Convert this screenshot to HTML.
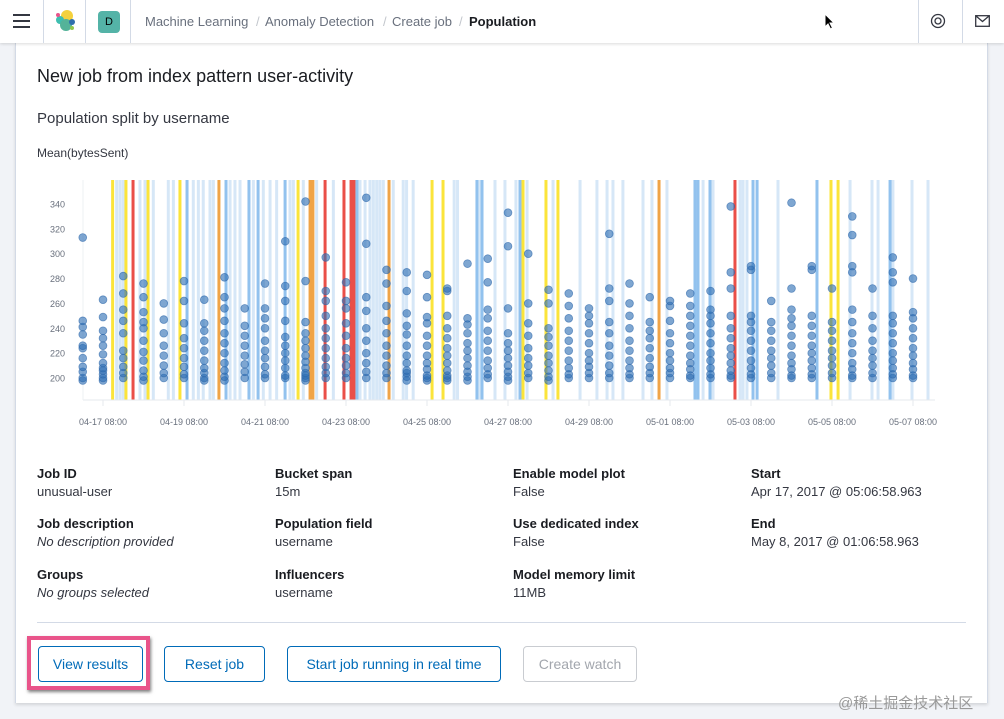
<!DOCTYPE html>
<html><head><meta charset="utf-8"><style>
*{box-sizing:border-box;margin:0;padding:0}
body{width:1004px;height:719px;overflow:hidden;background:#f1f3f7;font-family:"Liberation Sans","Noto Sans CJK SC",sans-serif;position:relative;color:#1a1c21}
.abs{position:absolute}
#header{left:0;top:0;width:1004px;height:43px;background:#fff;box-shadow:0 1px 3px rgba(0,0,0,.15);z-index:5}
.vd{position:absolute;top:0;width:1px;height:43px;background:#d3dae6}
.crumb{position:absolute;top:14px;font-size:13px;color:#69707d;white-space:nowrap}
#panel{left:15px;top:43px;width:973px;height:660px;background:#fff;border-left:1px solid #d3dae6;border-right:1px solid #d3dae6;box-shadow:0 2px 3px rgba(0,0,0,.12)}
.lbl{position:absolute;font-size:13px;font-weight:bold;color:#1a1c21}
.val{position:absolute;font-size:13px;color:#343741}
.it{font-style:italic}
.btn{position:absolute;top:646px;height:36px;border:1px solid #006bb8;border-radius:4px;color:#006bb8;font-size:14px;text-align:center;line-height:34px;background:#fff}
</style></head><body>
<div id="header" class="abs">
  <div class="abs" style="left:13px;top:14px;width:17px;height:14px">
    <div style="height:2px;background:#343741;margin-bottom:4px"></div><div style="height:2px;background:#343741;margin-bottom:4px"></div><div style="height:2px;background:#343741"></div>
  </div>
  <div class="vd" style="left:43px"></div>
  <svg class="abs" style="left:53px;top:9px" width="24" height="24"><circle cx="14" cy="7" r="6" fill="#f4d13d"/><circle cx="7" cy="11" r="4" fill="#3ebeb0"/><circle cx="13" cy="16" r="6" fill="#54b399"/><circle cx="19" cy="13" r="3" fill="#2f6fad"/><circle cx="5" cy="6" r="2" fill="#e7548a"/><circle cx="19" cy="19" r="2" fill="#92c84c"/></svg>
  <div class="vd" style="left:85px"></div>
  <div class="abs" style="left:98px;top:11px;width:22px;height:22px;background:#54b3a7;border-radius:4px;font-size:11px;text-align:center;line-height:22px;color:#000">D</div>
  <div class="vd" style="left:130px"></div>
  <span class="crumb" style="left:145px">Machine Learning</span>
  <span class="crumb" style="left:256px;color:#c2c6cc">/</span>
  <span class="crumb" style="left:265px">Anomaly Detection</span>
  <span class="crumb" style="left:383px;color:#c2c6cc">/</span>
  <span class="crumb" style="left:392px">Create job</span>
  <span class="crumb" style="left:459px;color:#c2c6cc">/</span>
  <span class="crumb" style="left:469px;color:#1a1c21;font-weight:bold">Population</span>
  <svg class="abs" style="left:824px;top:13px" width="12" height="18"><path d="M1 1 L1 14 L4 11 L6.5 16 L8.5 15 L6 10 L10 10 Z" fill="#000" stroke="#fff" stroke-width="1"/></svg>
  <div class="vd" style="left:918px"></div>
  <svg class="abs" style="left:930px;top:13px" width="16" height="16"><circle cx="8" cy="8" r="6.5" fill="none" stroke="#343741" stroke-width="1.3"/><circle cx="8" cy="8" r="3" fill="none" stroke="#343741" stroke-width="1.3"/></svg>
  <div class="vd" style="left:962px"></div>
  <svg class="abs" style="left:975px;top:15px" width="15" height="12"><rect x="0.7" y="0.7" width="13.6" height="10.6" fill="none" stroke="#343741" stroke-width="1.3"/><path d="M1 1 L7.5 6.5 L14 1" fill="none" stroke="#343741" stroke-width="1.3"/></svg>
</div>

<div id="panel" class="abs"></div>
<div class="abs" style="left:37px;top:66px;font-size:18px;color:#1a1c21">New job from index pattern user-activity</div>
<div class="abs" style="left:37px;top:110px;font-size:15px;color:#343741">Population split by username</div>
<div class="abs" style="left:37px;top:146px;font-size:12px;color:#343741">Mean(bytesSent)</div>

<svg class="abs" id="chart" style="left:0;top:0" width="1004" height="440"></svg>

<div class="lbl" style="left:37px;top:466px">Job ID</div>
<div class="val" style="left:37px;top:484px">unusual-user</div>
<div class="lbl" style="left:275px;top:466px">Bucket span</div>
<div class="val" style="left:275px;top:484px">15m</div>
<div class="lbl" style="left:513px;top:466px">Enable model plot</div>
<div class="val" style="left:513px;top:484px">False</div>
<div class="lbl" style="left:751px;top:466px">Start</div>
<div class="val" style="left:751px;top:484px">Apr 17, 2017 @ 05:06:58.963</div>
<div class="lbl" style="left:37px;top:516px">Job description</div>
<div class="val it" style="left:37px;top:534px">No description provided</div>
<div class="lbl" style="left:275px;top:516px">Population field</div>
<div class="val" style="left:275px;top:534px">username</div>
<div class="lbl" style="left:513px;top:516px">Use dedicated index</div>
<div class="val" style="left:513px;top:534px">False</div>
<div class="lbl" style="left:751px;top:516px">End</div>
<div class="val" style="left:751px;top:534px">May 8, 2017 @ 01:06:58.963</div>
<div class="lbl" style="left:37px;top:567px">Groups</div>
<div class="val it" style="left:37px;top:585px">No groups selected</div>
<div class="lbl" style="left:275px;top:567px">Influencers</div>
<div class="val" style="left:275px;top:585px">username</div>
<div class="lbl" style="left:513px;top:567px">Model memory limit</div>
<div class="val" style="left:513px;top:585px">11MB</div>

<div class="abs" style="left:37px;top:622px;width:929px;height:1px;background:#d3dae6"></div>
<div class="abs" style="left:27px;top:636px;width:123px;height:54px;border:4px solid #e9548a;box-shadow:1px 2px 3px rgba(0,0,0,.5)"></div>
<div class="btn" style="left:38px;width:105px">View results</div>
<div class="btn" style="left:164px;width:101px">Reset job</div>
<div class="btn" style="left:287px;width:214px">Start job running in real time</div>
<div class="btn" style="left:523px;width:114px;border-color:#c9ccd1;color:#a2a6ad">Create watch</div>
<div class="abs" style="left:838px;top:692px;font-size:15px;color:#999">@稀土掘金技术社区</div>

<script>
const bandLight=[16.1,18.1,20.0,29.9,32.9,37.8,46.7,49.7,61.5,64.5,67.4,71.4,73.4,83.3,86.2,89.2,97.1,103.0,107.0,110.9,118.8,120.8,126.7,134.6,144.5,160.3,163.3,166.2,168.2,170.2,172.1,174.1,180.0,185.9,187.9,191.8,216.1,218.1,231.4,240.3,246.2,252.7,259.3,274.7,290.7,300.7,306.7,310.2,316.1,328,333.3,342.2,363.6,369.5,385.5,387.3,389.6,408,450.7,463.7,467.3,476.1,487.4,496.9];
const bandMedium=[57.8,80.9,94.5,99.9,115.9,158.5,229.6,232.6,255.1,358.8,360.6,367.7,393.2,395.6,431.1,474.4];
const bandYellow=[13.7,21.6,34.7,53.6,123.6,203,209.5,256.9,270.5,277.6,439.4,443.6];
const bandOrange=[76.7,130.7,132.4,177.5,337.5];
const bandRed=[25.8,139.6,150.8,155,156.7,382.5];
const columnHours=[-4,8,20,32,44,56,68,80,92,104,116,128,140,152,164,176,188,200,212,224,236,248,260,272,284,296,308,320,332,344,356,368,380,392,404,416,428,440,452,464,476,488];
const columnValues=[
[198,200,205,209,216,224,226,235,241,246,313],
[198,200,203,206,208,212,219,226,232,238,249,263],
[200,204,209,216,222,236,246,255,268,282],
[198,201,206,214,221,230,240,245,253,265,276],
[200,204,210,218,226,236,247,260],
[200,203,209,216,224,232,244,262,278],
[198,200,204,208,214,222,230,238,244,263],
[198,201,206,212,220,228,236,246,256,265,281],
[200,205,211,218,226,234,242,256],
[200,203,209,216,222,230,240,248,256,276],
[200,202,208,214,220,226,233,246,262,274,310],
[198,200,202,204,208,213,218,224,230,236,245,278,342],
[200,204,209,216,224,232,240,250,262,270,297],
[200,204,210,216,224,234,244,256,262,277],
[200,205,212,220,230,240,254,265,308,345],
[200,204,210,218,226,236,246,258,276,287],
[198,201,204,206,212,218,226,235,242,252,270,285],
[198,200,202,207,212,218,226,234,244,249,265,283],
[198,200,202,206,212,218,224,232,240,250,270,272],
[198,201,205,210,216,222,228,236,243,248,292],
[200,203,208,214,222,230,238,248,255,277,296],
[198,201,205,210,216,222,228,236,256,306,333],
[200,204,210,216,224,234,244,260,300],
[198,201,206,212,218,226,233,240,260,271],
[200,203,208,214,222,230,238,248,258,268],
[200,204,209,214,220,228,236,244,250,256],
[200,204,210,218,226,236,245,262,272,316],
[200,203,208,214,222,230,240,250,260,276],
[200,204,209,216,224,232,238,245,265],
[200,204,208,214,220,228,236,246,258,262],
[200,202,207,212,218,226,234,242,250,258,268],
[200,203,208,214,220,228,236,244,250,255,270],
[200,202,206,212,218,224,232,240,250,272,285,338],
[200,203,208,214,222,230,238,245,250,287,290],
[200,204,210,216,222,230,238,245,262],
[200,202,207,212,218,226,234,242,248,255,272,341],
[200,203,208,214,220,226,234,242,250,287,290],
[200,204,210,216,222,230,238,245,272],
[200,202,207,212,220,228,236,245,255,285,290,315,330],
[200,204,210,216,222,230,240,250,272],
[200,203,208,214,220,228,236,244,250,277,285,297],
[200,202,207,212,218,224,232,240,248,253,280]
];
const yTicks=[200,220,240,260,280,300,320,340];
const xTickHours=[8,56,104,152,200,248,296,344,392,440,488];
const xTickLabels=["04-17 08:00","04-19 08:00","04-21 08:00","04-23 08:00","04-25 08:00","04-27 08:00","04-29 08:00","05-01 08:00","05-03 08:00","05-05 08:00","05-07 08:00"];

const NS="http://www.w3.org/2000/svg";
const svg=document.getElementById('chart');
const PX0=83,PX1=935,PT=180,PB=400;
function xs(h){return 89.5+h*1.6875;}
function ys(v){return 378-(v-200)*1.243;}
function mk(t,a){const e=document.createElementNS(NS,t);for(const k in a)e.setAttribute(k,a[k]);svg.appendChild(e);return e;}
function bands(arr,color,w,name){
  arr.forEach(h=>{
    const r=mk('rect',{x:xs(h)-w/2,y:PT,width:w,height:PB-PT,fill:color});
    
    
  });
}
bands(bandLight,'#d6e7f7',3,'band-light');
bands(bandMedium,'#92c2ee',3,'band-medium');
bands(bandYellow,'#fbe43a',3,'band-yellow');
bands(bandOrange,'#f0a447',3,'band-orange');
bands(bandRed,'#ea4f48',3,'band-red');
const ax=mk('line',{x1:PX0,y1:PB,x2:PX1,y2:PB,stroke:'#e6e9ee','stroke-width':1});


const ay=mk('line',{x1:PX0,y1:PT,x2:PX0,y2:PB,stroke:'#eef0f3','stroke-width':1});


yTicks.forEach(v=>{
  const t=mk('text',{x:65,y:ys(v)+3.5,'text-anchor':'end','font-size':9,fill:'#69707d','font-family':'Liberation Sans, sans-serif'});
  t.textContent=v;
  
  
});
xTickHours.forEach((h,i)=>{
  const l=mk('line',{x1:xs(h),y1:PB,x2:xs(h),y2:PB+6,stroke:'#e6e9ee'});
  
  
  const t=mk('text',{x:xs(h),y:425,'text-anchor':'middle','font-size':9,fill:'#69707d','font-family':'Liberation Sans, sans-serif'});
  t.textContent=xTickLabels[i];
  
  
});
columnHours.forEach((h,i)=>{
  (columnValues[i]||[]).forEach(v=>{
    const c=mk('circle',{cx:xs(h),cy:ys(v),r:3.9,fill:'#2f6fb5','fill-opacity':0.62,stroke:'#2a64a8','stroke-opacity':0.6,'stroke-width':0.8});
    
    
  });
});
</script>
</body></html>
